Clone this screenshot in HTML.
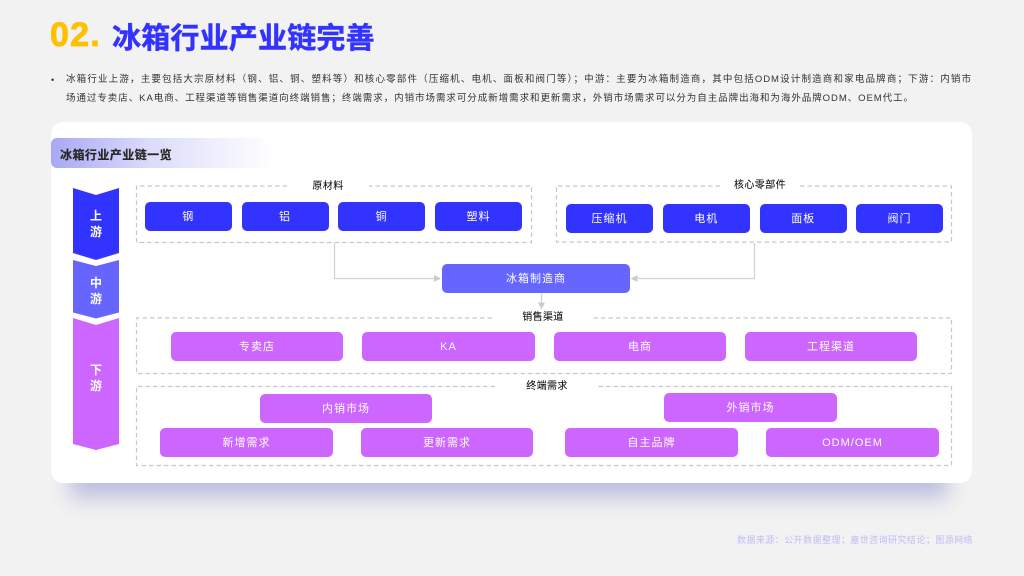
<!DOCTYPE html>
<html lang="zh">
<head>
<meta charset="utf-8">
<style>
html,body{margin:0;padding:0}
body{width:1024px;height:576px;background:#f2f2f2;position:relative;overflow:hidden;font-family:"Liberation Sans","Noto Sans CJK SC",sans-serif}
.a{position:absolute}
.t{position:absolute;white-space:nowrap}
.line{position:absolute;left:66px;height:16px;line-height:16px;font-size:9.5px;letter-spacing:.95px;color:#333;text-align:justify;text-align-last:justify;white-space:nowrap}
.b{position:absolute;border-radius:5px;color:#fff;font-size:11px;letter-spacing:1px;text-align:center;box-sizing:border-box;height:29px;line-height:30px;box-shadow:0 0 0 .5px rgba(255,255,255,.6)}
.u{background:#3333ff}
.m{background:#6666ff}
.d{background:#cc66ff}
.lb{position:absolute;font-size:10px;color:#111;letter-spacing:.4px;text-align:center;line-height:14px;height:14px;white-space:nowrap;-webkit-text-stroke:.08px #111}
.c{position:absolute;color:#fff;font-size:12px;font-weight:bold;line-height:16px;text-align:center;width:46px;left:73px}
</style>
</head>
<body>
<div class="t" style="left:50px;top:15px;font-size:34px;line-height:40px;font-weight:bold;color:#ffc000;letter-spacing:1.2px;-webkit-text-stroke:.8px #ffc000">02.</div>
<div class="t" style="left:112px;top:18px;font-size:29px;line-height:42px;font-weight:bold;color:#3333ff;letter-spacing:.2px;-webkit-text-stroke:.5px #3333ff">冰箱行业产业链完善</div>

<div class="t" style="left:51px;top:72px;font-size:9px;line-height:16px;color:#333">•</div>
<div class="line" style="top:72px;width:906px">冰箱行业上游&#xFF0C;主要包括大宗原材料&#xFF08;钢、铝、铜、塑料等&#xFF09;和核心零部件&#xFF08;压缩机、电机、面板和阀门等&#xFF09;&#xFF1B;中游&#xFF1A;主要为冰箱制造商&#xFF0C;其中包括ODM设计制造商和家电品牌商&#xFF1B;下游&#xFF1A;内销市</div>
<div class="line" style="top:91px;width:848px">场通过专卖店、KA电商、工程渠道等销售渠道向终端销售&#xFF1B;终端需求&#xFF0C;内销市场需求可分成新增需求和更新需求&#xFF0C;外销市场需求可以分为自主品牌出海和为海外品牌ODM、OEM代工。</div>

<div class="a" style="left:70px;top:462px;width:878px;height:36px;background:#bcc0de;filter:blur(10px)"></div>
<div class="a" style="left:51px;top:122px;width:921px;height:361px;background:#fff;border-radius:12px"></div>
<div class="a" style="left:51px;top:138px;width:222px;height:30px;border-radius:6px 0 0 6px;background:linear-gradient(90deg,#a8a8f5 0%,#dcdcfb 45%,#ffffff 100%)"></div>
<div class="t" style="left:60px;top:146px;font-size:12px;line-height:18px;font-weight:bold;color:#262626;letter-spacing:.45px;-webkit-text-stroke:.2px #262626">冰箱行业产业链一览</div>

<svg class="a" style="left:0;top:0" width="1024" height="576" viewBox="0 0 1024 576">
  <polygon points="73,188 96,195 119,188 119,253 96,260 73,253" fill="#3333ff"/>
  <polygon points="73,260 96,266 119,260 119,312.5 96,318.5 73,312.5" fill="#6666ff"/>
  <polygon points="73,318 96,325 119,318 119,444 96,450 73,444" fill="#cc66ff"/>
  <g fill="none" stroke="#c8c8c8" stroke-width="1.2" stroke-dasharray="4.5 3">
    <path d="M287 186H136.5V242.5H531.5V186H369"/>
    <path d="M720 186H556.5V242H951.5V186H800"/>
    <path d="M492 318H136.5V373.5H951.5V318H592"/>
    <path d="M495 386.5H136.5V465.5H951.5V386.5H597"/>
  </g>
  <g fill="none" stroke="#d2d2d2" stroke-width="1.2">
    <path d="M334.5 243V278.5H436"/>
    <path d="M754.5 243V278.5H636"/>
    <path d="M541.5 293V304"/>
  </g>
  <g fill="#cccccc">
    <polygon points="441,278.5 434,275 434,282"/>
    <polygon points="630.5,278.5 637.5,275 637.5,282"/>
    <polygon points="541.5,309.5 538,302.5 545,302.5"/>
  </g>
</svg>

<div class="c" style="top:208px">上<br>游</div>
<div class="c" style="top:275px">中<br>游</div>
<div class="c" style="top:362px">下<br>游</div>

<div class="lb" style="left:287px;width:82px;top:180px">原材料</div>
<div class="lb" style="left:720px;width:80px;top:179px">核心零部件</div>
<div class="lb" style="left:492px;width:102px;top:311px">销售渠道</div>
<div class="lb" style="left:495px;width:104px;top:380px">终端需求</div>

<div class="b u" style="left:145px;top:202px;width:86.5px">钢</div>
<div class="b u" style="left:241.5px;top:202px;width:87px">铝</div>
<div class="b u" style="left:338px;top:202px;width:87px">铜</div>
<div class="b u" style="left:435px;top:202px;width:87px">塑料</div>

<div class="b u" style="left:566px;top:204px;width:87px">压缩机</div>
<div class="b u" style="left:663px;top:204px;width:86.5px">电机</div>
<div class="b u" style="left:760px;top:204px;width:86.5px">面板</div>
<div class="b u" style="left:856px;top:204px;width:87px">阀门</div>

<div class="b m" style="left:442px;top:264px;width:188px">冰箱制造商</div>

<div class="b d" style="left:171px;top:332px;width:172px">专卖店</div>
<div class="b d" style="left:362px;top:332px;width:173px">KA</div>
<div class="b d" style="left:554px;top:332px;width:172px">电商</div>
<div class="b d" style="left:745px;top:332px;width:172px">工程渠道</div>

<div class="b d" style="left:260px;top:394px;width:172px">内销市场</div>
<div class="b d" style="left:664px;top:393px;width:173px">外销市场</div>
<div class="b d" style="left:160px;top:428px;width:173px">新增需求</div>
<div class="b d" style="left:361px;top:428px;width:172px">更新需求</div>
<div class="b d" style="left:565px;top:428px;width:173px">自主品牌</div>
<div class="b d" style="left:766px;top:428px;width:173px">ODM/OEM</div>

<div class="t" style="left:737px;top:533px;font-size:9px;line-height:14px;color:#bdbdf5;letter-spacing:.44px">数据来源&#xFF1A;公开数据整理&#xFF1B;嘉世咨询研究结论&#xFF1B;图源网络</div>
</body>
</html>
